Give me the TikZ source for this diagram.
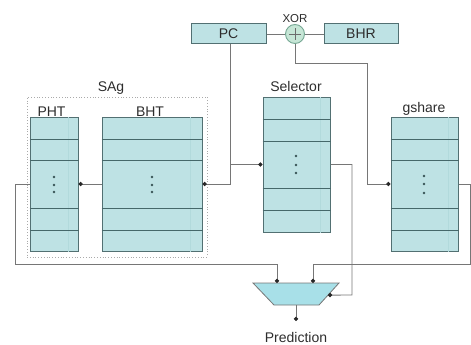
\documentclass[tikz,border=0pt]{standalone}
\usepackage{fontspec}
\setmainfont{Liberation Sans}
\usetikzlibrary{arrows.meta,calc}

\definecolor{cellfill}{RGB}{190,226,228}
\definecolor{celledge}{RGB}{82,112,114}
\definecolor{rowedge}{RGB}{70,104,106}
\definecolor{stripec}{RGB}{178,218,220}
\definecolor{wire}{RGB}{118,118,118}
\definecolor{tipc}{RGB}{40,40,40}
\definecolor{ink}{RGB}{45,45,45}
\definecolor{xorfill}{RGB}{198,230,214}
\definecolor{xoredge}{RGB}{118,168,148}
\definecolor{muxfill}{RGB}{168,224,232}
\definecolor{frame}{RGB}{170,170,170}

\tikzset{
  tablebox/.style={draw=celledge, fill=cellfill, line width=1pt, inner sep=0pt},
  regbox/.style={draw=celledge, fill=cellfill, line width=1pt, inner sep=0pt,
    text=ink, font=\fontsize{14}{16}\selectfont},
  rowline/.style={draw=rowedge, line width=0.9pt},
  stripe/.style={draw=stripec, line width=0.6pt},
  celldot/.style={fill=rowedge!80!black},
  wire/.style={draw=wire, line width=0.9pt},
  dotwire/.style={wire, -{Circle[length=4.2pt, color=tipc]}},
  lbl/.style={text=ink, inner sep=0pt, anchor=base, font=\fontsize{14}{16}\selectfont},
  sagbox/.style={draw=frame, dotted, line width=0.8pt, inner sep=0pt},
  xorgate/.style={circle, draw=xoredge, fill=xorfill, line width=0.9pt, inner sep=0pt, minimum size=19pt},
  muxshape/.style={draw=wire, fill=muxfill, line width=0.8pt}
}

\begin{document}
\begin{tikzpicture}[x=1pt, y=-1pt]
  \useasboundingbox (0,0) rectangle (471,345);

  % ---- top row: PC, XOR, BHR ----
  \node[regbox, minimum width=75pt, minimum height=20pt] (pc) at (228.5,34) {PC};
  \node[xorgate] (xor) at (295,34) {};
  \draw[wire, draw=ink!70] ([xshift=-6pt]xor.center) -- ([xshift=6pt]xor.center)
                             ([yshift=-6pt]xor.center) -- ([yshift=6pt]xor.center);
  \node[regbox, minimum width=74pt, minimum height=20pt] (bhr) at (361,34) {BHR};
  \node[lbl, font=\fontsize{11.5}{14}\selectfont] (xorlabel) at (295,23) {XOR};

  % ---- SAg group ----
  \node[sagbox, minimum width=180pt, minimum height=160pt] (sag) at (117,177) {};
  \node[lbl] (saglabel) at (111,91) {SAg};

  \node[tablebox, minimum width=48pt, minimum height=134pt] (pht) at (54,184) {};
  \node[tablebox, minimum width=100pt, minimum height=134pt] (bht) at (152,184) {};
  \node[lbl] (phtlabel) at (51.5,116) {PHT};
  \node[lbl] (bhtlabel) at (150,116) {BHT};

  % ---- Selector and gshare tables ----
  \node[tablebox, minimum width=67pt, minimum height=135pt] (sel) at (296.5,164.5) {};
  \node[lbl] (sellabel) at (296,92) {Selector};
  \node[tablebox, minimum width=67pt, minimum height=134pt] (gs) at (424.5,184) {};
  \node[lbl] (gslabel) at (424,112) {gshare};

  % faint inner stripes
  \foreach \t/\d in {pht/10, bht/12, sel/10, gs/10}
    \draw[stripe] ([xshift=-\d pt]\t.north east) -- ([xshift=-\d pt]\t.south east);

  % table rows
  \foreach \t in {pht, bht, gs}
    \foreach \y in {139,160,208,230}
      \draw[rowline] (\t.west |- 0,\y) -- (\t.east |- 0,\y);
  \foreach \y in {119,141,188,210}
    \draw[rowline] (sel.west |- 0,\y) -- (sel.east |- 0,\y);

  % vertical ellipses
  \foreach \x/\a/\b/\c in {54/177/185/192, 152/177/185/192, 296/156/165/173, 424/176/184/193}
    \foreach \y in {\a,\b,\c}
      \fill[celldot] (\x,\y) circle (1.4pt);

  % ---- multiplexer ----
  \coordinate (muxTL) at (253,283);
  \coordinate (muxTR) at (339,283);
  \coordinate (muxBR) at (319,305);
  \coordinate (muxBL) at (274,305);
  \draw[muxshape] (muxTL) -- (muxTR) -- (muxBR) -- (muxBL) -- cycle;
  \coordinate (muxinA) at (277,283);
  \coordinate (muxinB) at (313,283);
  \coordinate (muxsel) at ($(muxTR)!0.55!(muxBR)$);
  \coordinate (muxout) at (296,305);
  \coordinate (predtip) at (296,321);
  \node[lbl] (pred) at (296,342) {Prediction};

  % ---- connectors ----
  \draw[wire] (pc.east) -- (xor.west);
  \draw[wire] (xor.east) -- (bhr.west);

  \coordinate (pcbranch) at (230,164.5);
  \draw[dotwire] ([xshift=1.5pt]pc.south) |- (bht.east);
  \draw[dotwire] (pcbranch) -- (sel.west);

  \coordinate (xorbend) at (367,63);
  \draw[dotwire] (xor.south) |- (xorbend) |- (gs.west);

  \draw[dotwire] (bht.west) -- (pht.east);

  \coordinate (lowL) at (15,264);
  \coordinate (lowR) at (470,264);
  \draw[dotwire] (pht.west) -| (lowL) -| (muxinA);
  \draw[dotwire] (gs.east) -| (lowR) -| (muxinB);

  \coordinate (selbend) at (352,295);
  \draw[dotwire] (sel.east) -| (selbend) -- (muxsel);

  \draw[dotwire] (muxout) -- (predtip);
\end{tikzpicture}
\end{document}
